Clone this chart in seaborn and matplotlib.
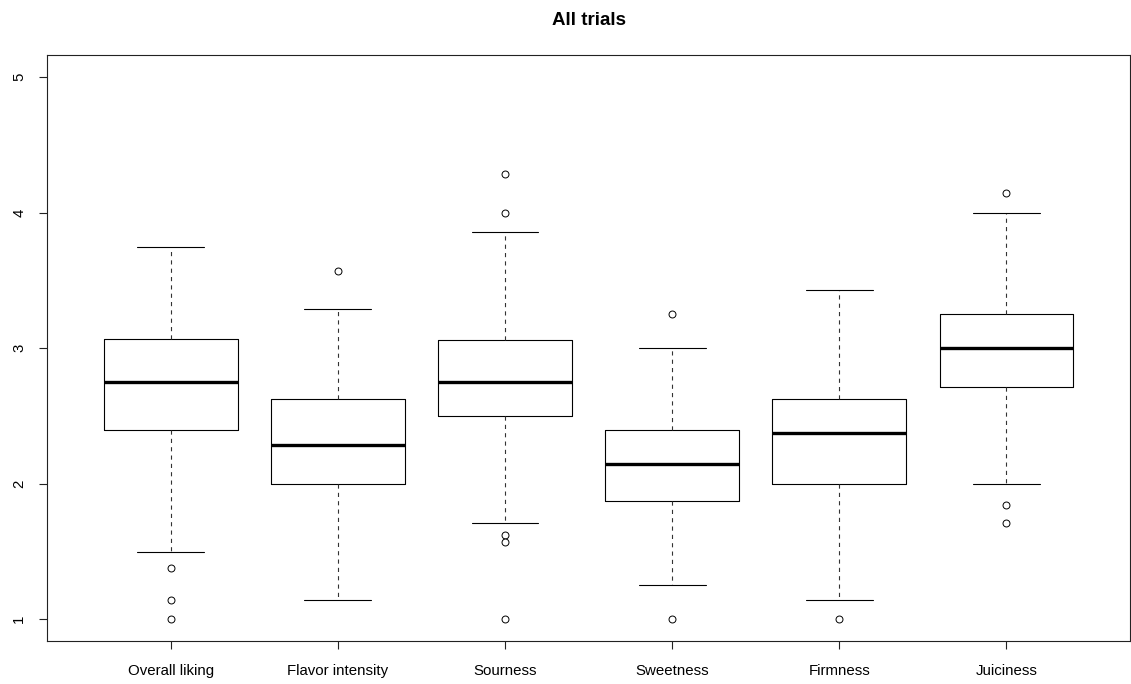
import seaborn as sns
import matplotlib
matplotlib.use("Agg")
import matplotlib.pyplot as plt

# summary statistics
categories = ["Overall liking", "Flavor intensity", "Sourness",
              "Sweetness", "Firmness", "Juiciness"]
whisker_low = [1.5, 1.143, 1.714, 1.25, 1.143, 2.0]
q1 = [2.4, 2.0, 2.5, 1.875, 2.0, 2.714]
median = [2.75, 2.286, 2.75, 2.143, 2.375, 3.0]
q3 = [3.071, 2.625, 3.063, 2.4, 2.625, 3.25]
whisker_high = [3.75, 3.286, 3.857, 3.0, 3.429, 4.0]
outliers = [
    [1.375, 1.143, 1.0],
    [3.571],
    [4.286, 4.0, 1.625, 1.571, 1.0],
    [3.25, 1.0],
    [1.0],
    [4.143, 1.843, 1.714],
]
yticks = [1, 2, 3, 4, 5]


def main():
    sns.set_style("ticks")
    plt.rcParams["font.family"] = ["Liberation Sans", "DejaVu Sans"]
    plt.rcParams["lines.scale_dashes"] = False

    stats = []
    for i, name in enumerate(categories):
        stats.append({
            "label": name,
            "whislo": whisker_low[i],
            "q1": q1[i],
            "med": median[i],
            "q3": q3[i],
            "whishi": whisker_high[i],
            "fliers": outliers[i],
        })

    fig = plt.figure(figsize=(11.31, 6.84), dpi=100)
    ax = fig.add_axes([0.0416, 0.0629, 0.9576, 0.8560])

    lw = 0.8
    ax.bxp(stats, positions=range(1, len(categories) + 1), widths=0.8,
           boxprops=dict(color="black", linewidth=lw),
           whiskerprops=dict(color="#333333", linewidth=lw,
                             linestyle=(0, (3, 3))),
           capprops=dict(color="black", linewidth=lw),
           capwidths=0.4,
           medianprops=dict(color="black", linewidth=2.4,
                            solid_capstyle="butt"),
           flierprops=dict(marker="o", markersize=5,
                           markerfacecolor="white",
                           markeredgecolor="black", markeredgewidth=0.7))

    ax.set_xlim(0.26, 6.74)
    ax.set_ylim(0.84, 5.16)
    ax.set_yticks(yticks)
    ax.set_yticklabels([str(t) for t in yticks])

    for s in ax.spines.values():
        s.set_color("#222222")
        s.set_linewidth(lw)
    ax.tick_params(axis="both", direction="out", length=6, width=lw,
                   color="#222222", labelsize=10.8, labelcolor="black")
    ax.tick_params(axis="y", labelrotation=90, pad=9)
    ax.tick_params(axis="x", pad=10.5)
    for lab in ax.get_yticklabels():
        lab.set_va("center")

    ax.set_title("All trials", fontsize=13.5, fontweight="bold", pad=22,
                 color="black")

    fig.savefig("out.png", dpi=100)


if __name__ == "__main__":
    main()
